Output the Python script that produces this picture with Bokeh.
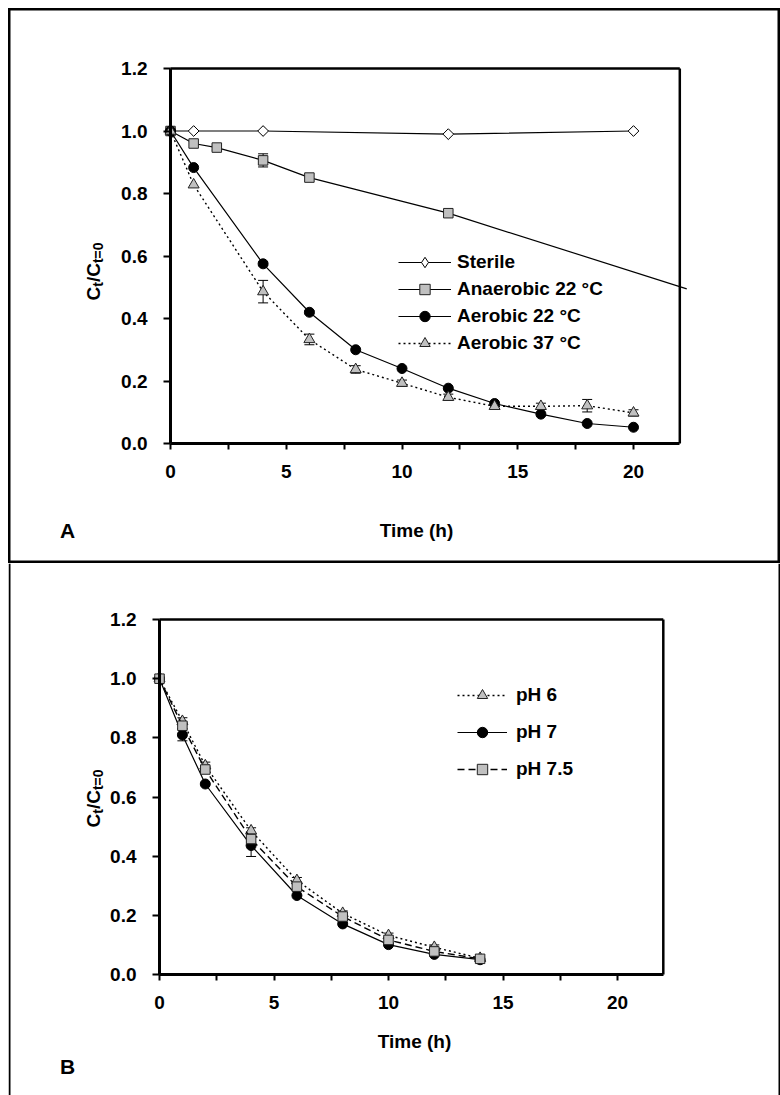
import math
from bokeh.plotting import figure
from bokeh.models import (Range1d, FixedTicker, PrintfTickFormatter, Legend, LegendItem,
                          Label, Whisker, ColumnDataSource)
from bokeh.layouts import column
from bokeh.embed import file_html
from bokeh.resources import INLINE

FONT = "Liberation Sans"

# ---------------- Panel A data ----------------
t_sterile = [0, 1, 4, 12, 20]
c_sterile = [1.00, 1.00, 1.00, 0.99, 1.00]

t_anaer = [0, 1, 2, 4, 6, 12]
c_anaer = [1.00, 0.960, 0.947, 0.906, 0.851, 0.737]
e_anaer = [0, 0, 0.008, 0.021, 0, 0]
t_anaer_trend = [12, 22.3]
c_anaer_trend = [0.737, 0.495]

t_aer = [0, 1, 4, 6, 8, 10, 12, 14, 16, 18, 20]
c_aer22 = [1.00, 0.883, 0.575, 0.420, 0.300, 0.240, 0.177, 0.128, 0.094, 0.064, 0.052]
e_aer22 = [0, 0, 0.006, 0.005, 0, 0, 0, 0, 0, 0, 0]
c_aer37 = [1.00, 0.828, 0.486, 0.333, 0.237, 0.193, 0.148, 0.119, 0.119, 0.121, 0.098]
e_aer37 = [0, 0, 0.036, 0.017, 0.012, 0.010, 0.010, 0.006, 0.010, 0.020, 0.010]

# ---------------- Panel B data ----------------
t_ph = [0, 1, 2, 4, 6, 8, 10, 12, 14]
c_ph6 = [1.00, 0.856, 0.706, 0.486, 0.318, 0.207, 0.132, 0.092, 0.055]
e_ph6 = [0, 0.012, 0.012, 0.010, 0.010, 0.008, 0.008, 0.008, 0]
c_ph7 = [1.00, 0.810, 0.644, 0.436, 0.267, 0.171, 0.101, 0.068, 0.050]
e_ph7 = [0, 0.020, 0, 0.037, 0, 0, 0, 0, 0]
c_ph75 = [1.00, 0.841, 0.693, 0.458, 0.297, 0.196, 0.117, 0.078, 0.053]
e_ph75 = [0, 0.010, 0.010, 0.010, 0.008, 0, 0, 0, 0]

x_major = [0, 5, 10, 15, 20]
x_minor = [2.5, 7.5, 12.5, 17.5]
y_major = [0.0, 0.2, 0.4, 0.6, 0.8, 1.0, 1.2]
X_MAX = 22
Y_MAX = 1.2

GREY = "#c0c0c0"
W = 772


def make_panel(height, x0_px, y0_px, ppx, ppy):
    """Frame covers the whole canvas; data (0,0) sits at canvas pixel (x0_px, y0_px from top)."""
    xs = -x0_px / ppx
    ys = -(height - y0_px) / ppy
    p = figure(width=W, height=height, title=None,
               x_range=Range1d(xs, xs + W / ppx), y_range=Range1d(ys, ys + height / ppy),
               output_backend="svg", toolbar_location=None,
               min_border=0, min_border_left=0, min_border_right=0,
               min_border_top=0, min_border_bottom=0)
    p.xgrid.visible = False
    p.ygrid.visible = False
    p.background_fill_color = "white"
    p.border_fill_color = "white"
    p.outline_line_color = None
    for ax in (p.xaxis[0], p.yaxis[0]):
        ax.axis_line_width = 3
        ax.axis_line_color = "black"
        ax.major_tick_line_width = 2
        ax.minor_tick_line_width = 2
        ax.major_tick_in = 0
        ax.minor_tick_in = 0
        ax.major_label_text_font = FONT
        ax.major_label_text_font_size = "19px"
        ax.major_label_text_font_style = "bold"
        ax.major_label_text_color = "black"
    p.xaxis.ticker = FixedTicker(ticks=x_major, minor_ticks=x_minor)
    p.xaxis.bounds = (0, X_MAX)
    p.xaxis.fixed_location = 0
    p.xaxis.major_tick_out = 6
    p.xaxis.minor_tick_out = 6
    p.xaxis.major_label_standoff = 15
    p.yaxis.ticker = FixedTicker(ticks=y_major, minor_ticks=[])
    p.yaxis.formatter = PrintfTickFormatter(format="%.1f")
    p.yaxis.bounds = (0, Y_MAX)
    p.yaxis.fixed_location = 0
    p.yaxis.major_tick_out = 7
    p.yaxis.minor_tick_out = 0
    p.yaxis.major_label_standoff = 16
    # top and right border of the plot box
    p.segment(x0=[0, X_MAX], y0=[Y_MAX, 0], x1=[X_MAX, X_MAX], y1=[Y_MAX, Y_MAX],
              line_color="black", line_width=2.5)
    return p


def add_err(p, t, c, e):
    keep = [i for i in range(len(t)) if e[i] > 0]
    if not keep:
        return
    src = ColumnDataSource(dict(base=[t[i] for i in keep],
                                upper=[c[i] + e[i] for i in keep],
                                lower=[c[i] - e[i] for i in keep]))
    w = Whisker(source=src, base="base", upper="upper", lower="lower",
                line_color="black", line_width=1, level="underlay")
    w.upper_head.size = 10
    w.lower_head.size = 10
    w.upper_head.line_width = 1
    w.lower_head.line_width = 1
    p.add_layout(w)


def add_text(p, x, y, text, size, angle=0.0, align="center", baseline="middle"):
    p.add_layout(Label(x=x, y=y, text=text, text_font=FONT, text_font_size=f"{size}px",
                       text_font_style="bold", text_color="black", angle=angle,
                       text_align=align, text_baseline=baseline))


def add_ylabel(p, x_base, y_start, ppx, ppy, main=19, sub=14):
    # C_t / C_{t=0}, rotated, built piece by piece
    pieces = [("C", main, 0.722), ("t", sub, 0.333), ("/", main, 0.278),
              ("C", main, 0.722), ("t=0", sub, 1.473)]
    y = y_start
    for txt, size, adv in pieces:
        xb = x_base if size == main else x_base + 4.5 / ppx
        add_text(p, xb, y, txt, size, angle=math.pi / 2, align="left", baseline="alphabetic")
        y += adv * size / ppy


def legend_for(items, loc, spacing, glyph_width, standoff):
    return Legend(items=items, location=loc, orientation="vertical", padding=0,
                  spacing=spacing, margin=0, glyph_width=glyph_width, glyph_height=26,
                  label_height=22, label_standoff=standoff,
                  border_line_color=None, background_fill_alpha=0,
                  label_text_font=FONT, label_text_font_size="19px",
                  label_text_font_style="bold", label_text_color="black")


# ======================= Panel A =======================
# canvas page origin (8, 8); data origin at page (170, 443)
ppxA, ppyA = 23.15, 312.5
HA = 555
pA = make_panel(HA, 162, 435, ppxA, ppyA)
pA.outline_line_color = "black"
pA.outline_line_width = 4

rs = pA.line(t_sterile, c_sterile, line_color="black", line_width=1.2)
# diamond glyph (used by the legend), covered by the rotated squares drawn on top
ms = pA.scatter(t_sterile, c_sterile, marker="diamond", size=10,
                fill_color="white", line_color="black", line_width=1)
pA.scatter(t_sterile, c_sterile, marker="square", angle=math.pi / 4, size=7.6,
           fill_color="white", line_color="black", line_width=1)
ra = pA.line(t_anaer, c_anaer, line_color="black", line_width=1.2)
pA.line(t_anaer_trend, c_anaer_trend, line_color="black", line_width=1.2)
add_err(pA, t_anaer, c_anaer, e_anaer)
ma = pA.scatter(t_anaer, c_anaer, marker="square", size=9.5,
                fill_color=GREY, line_color="#222222", line_width=1)
r22 = pA.line(t_aer, c_aer22, line_color="black", line_width=1.2)
add_err(pA, t_aer, c_aer22, e_aer22)
m22 = pA.scatter(t_aer, c_aer22, marker="circle", size=10,
                 fill_color="black", line_color="black", line_width=1)
r37 = pA.line(t_aer, c_aer37, line_color="black", line_width=1.4, line_dash="2 3")
add_err(pA, t_aer, c_aer37, e_aer37)
m37 = pA.scatter(t_aer, c_aer37, marker="triangle", size=11,
                 fill_color=GREY, line_color="#222222", line_width=1)

legA = legend_for([LegendItem(label="Sterile", renderers=[rs, ms]),
                   LegendItem(label="Anaerobic 22 °C", renderers=[ra, ma]),
                   LegendItem(label="Aerobic 22 °C", renderers=[r22, m22]),
                   LegendItem(label="Aerobic 37 °C", renderers=[r37, m37])],
                  (390, 555 - 348), 1, 53, 6)
pA.add_layout(legA)

add_text(pA, (67 - 170) / ppxA, (443 - 529.5) / ppyA, "A", 21)
add_text(pA, (416 - 170) / ppxA, (443 - 530) / ppyA, "Time (h)", 19)
add_ylabel(pA, (92.5 - 170) / ppxA, (443 - 300) / ppyA, ppxA, ppyA)

# ======================= Panel B =======================
# canvas page origin (8, 563); data origin at page (159, 974)
ppxB, ppyB = 22.9, 295.8
HB = 532
pB = make_panel(HB, 151, 411, ppxB, ppyB)
xsB = -151 / ppxB
ysB = -(HB - 411) / ppyB
pB.segment(x0=[xsB + 1 / ppxB, xsB + (W - 1) / ppxB], y0=[ysB, ysB],
           x1=[xsB + 1 / ppxB, xsB + (W - 1) / ppxB], y1=[ysB + HB / ppyB] * 2,
           line_color="black", line_width=2)

r6 = pB.line(t_ph, c_ph6, line_color="black", line_width=1.4, line_dash="2 3")
add_err(pB, t_ph, c_ph6, e_ph6)
m6 = pB.scatter(t_ph, c_ph6, marker="triangle", size=11,
                fill_color=GREY, line_color="#222222", line_width=1)
r7 = pB.line(t_ph, c_ph7, line_color="black", line_width=1.2)
add_err(pB, t_ph, c_ph7, e_ph7)
m7 = pB.scatter(t_ph, c_ph7, marker="circle", size=10,
                fill_color="black", line_color="black", line_width=1)
r75 = pB.line(t_ph, c_ph75, line_color="black", line_width=1.4, line_dash="7 4")
add_err(pB, t_ph, c_ph75, e_ph75)
m75 = pB.scatter(t_ph, c_ph75, marker="square", size=9.5,
                 fill_color=GREY, line_color="#222222", line_width=1)

legB = legend_for([LegendItem(label="pH 6", renderers=[r6, m6]),
                   LegendItem(label="pH 7", renderers=[r7, m7]),
                   LegendItem(label="pH 7.5", renderers=[r75, m75])],
                  (449, 532 - 219), 11, 50, 9)
pB.add_layout(legB)

add_text(pB, (67 - 159) / ppxB, (974 - 1066) / ppyB, "B", 21)
add_text(pB, (414 - 159) / ppxB, (974 - 1041) / ppyB, "Time (h)", 19)
add_ylabel(pB, (92.5 - 159) / ppxB, (974 - 827) / ppyB, ppxB, ppyB)

layout = column(pA, pB, margin=(8, 0, 0, 8))
open("out.html", "w").write(file_html(layout, INLINE))
